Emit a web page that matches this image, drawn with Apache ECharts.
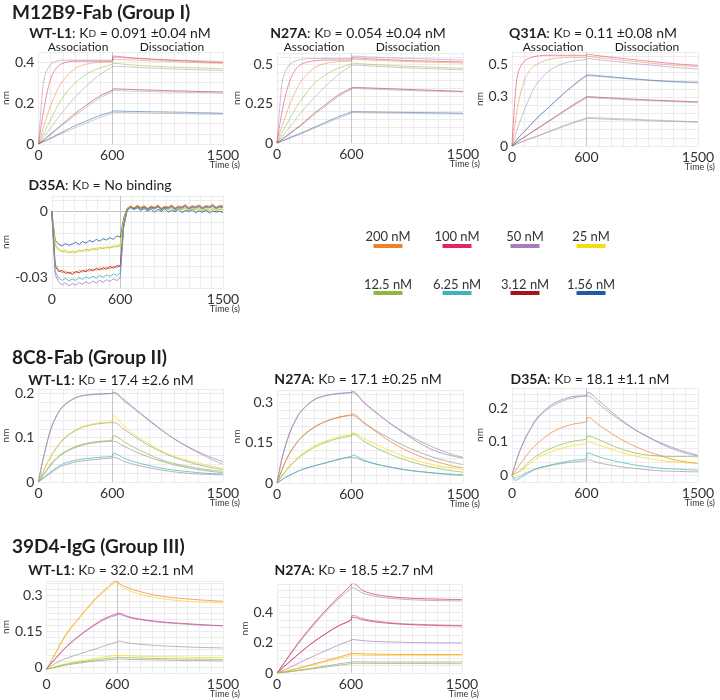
<!DOCTYPE html>
<html>
<head>
<meta charset="utf-8">
<title>BLI kinetics</title>
<script src="https://cdn.jsdelivr.net/npm/echarts@6.0.0/dist/echarts.min.js"></script>
<style>
  html, body { margin: 0; padding: 0; background: #fff; }
  #chart { width: 720px; height: 700px; }
</style>
</head>
<body>
<div id="chart"></div>
<script>
// concentrations (legend)
const concLabels = ['200 nM', '100 nM', '50 nM', '25 nM', '12.5 nM', '6.25 nM', '3.12 nM', '1.56 nM'];
const concColors = ['#f07f2e', '#e2245f', '#a57cc0', '#f6dc12', '#8fb83e', '#3fb2bd', '#a3161f', '#1f5aa6'];
const FIT_GRAY = '#9a9a9a';

// tick labels
const xTickLabels = [0, 600, 1500];
const yTicksA1 = [0, 0.2, 0.4];
const yTicksA2 = [0, 0.25, 0.5];
const yTicksA3 = [0, 0.3, 0.5];
const yTicksA4 = [-0.03, 0];
const yTicksB1 = [0, 0.1, 0.2];
const yTicksB2 = [0, 0.15, 0.3];
const yTicksB3 = [0, 0.1, 0.2];
const yTicksC1 = [0, 0.15, 0.3];
const yTicksC2 = [0, 0.2, 0.4];

// time points (s): association 0-600, dissociation 610-1500
const tKin = [0, 25, 50, 100, 150, 200, 300, 400, 500, 600, 610, 700, 800, 900, 1000, 1100, 1200, 1300, 1400, 1500];
const tNoise = [0, 30, 60, 90, 120, 150, 180, 210, 240, 270, 300, 330, 360, 390, 420, 450, 480, 510, 540, 570,
  600, 630, 660, 690, 720, 750, 780, 810, 840, 870, 900, 930, 960, 990, 1020, 1050, 1080, 1110, 1140, 1170,
  1200, 1230, 1260, 1290, 1320, 1350, 1380, 1410, 1440, 1470, 1500];

// M12B9-Fab, WT-L1 (nm)
const m12b9Wt = [
  [0, 0.20, 0.33, 0.39, 0.405, 0.41, 0.41, 0.41, 0.41, 0.41, 0.425, 0.422, 0.418, 0.415, 0.413, 0.411, 0.409, 0.407, 0.405, 0.404],
  [0, 0.10, 0.19, 0.32, 0.375, 0.395, 0.405, 0.405, 0.405, 0.405, 0.43, 0.425, 0.42, 0.416, 0.412, 0.409, 0.406, 0.403, 0.40, 0.398],
  [0, 0.05, 0.10, 0.19, 0.26, 0.31, 0.37, 0.392, 0.40, 0.402, 0.415, 0.412, 0.41, 0.407, 0.405, 0.403, 0.40, 0.398, 0.396, 0.395],
  [0, 0.03, 0.06, 0.12, 0.18, 0.23, 0.30, 0.345, 0.372, 0.39, 0.395, 0.39, 0.385, 0.382, 0.379, 0.376, 0.374, 0.372, 0.37, 0.368],
  [0, 0.02, 0.04, 0.08, 0.12, 0.16, 0.23, 0.29, 0.34, 0.377, 0.38, 0.378, 0.375, 0.372, 0.37, 0.367, 0.365, 0.363, 0.361, 0.36],
  [0, 0.012, 0.025, 0.05, 0.075, 0.10, 0.15, 0.195, 0.235, 0.263, 0.27, 0.268, 0.266, 0.264, 0.262, 0.26, 0.259, 0.257, 0.256, 0.255],
  [0, 0.01, 0.02, 0.045, 0.07, 0.095, 0.14, 0.185, 0.225, 0.255, 0.262, 0.26, 0.258, 0.257, 0.255, 0.254, 0.253, 0.252, 0.251, 0.25],
  [0, 0.007, 0.015, 0.03, 0.045, 0.06, 0.09, 0.115, 0.14, 0.158, 0.162, 0.16, 0.159, 0.158, 0.157, 0.156, 0.155, 0.153, 0.152, 0.15],
  [0, 0.006, 0.012, 0.025, 0.04, 0.053, 0.08, 0.105, 0.13, 0.15, 0.155, 0.153, 0.152, 0.151, 0.15, 0.149, 0.148, 0.147, 0.146, 0.145]
];
const m12b9WtCols = [2, 1, 0, 4, -1, 6, -1, 7, -1];

// M12B9-Fab, N27A
const m12b9N27a = [
  [0, 0.26, 0.42, 0.50, 0.525, 0.535, 0.54, 0.54, 0.54, 0.54, 0.555, 0.552, 0.548, 0.545, 0.542, 0.54, 0.537, 0.535, 0.532, 0.53],
  [0, 0.13, 0.24, 0.39, 0.47, 0.505, 0.525, 0.53, 0.53, 0.53, 0.545, 0.54, 0.536, 0.532, 0.529, 0.526, 0.524, 0.522, 0.52, 0.518],
  [0, 0.07, 0.13, 0.24, 0.33, 0.40, 0.48, 0.51, 0.52, 0.525, 0.535, 0.532, 0.528, 0.525, 0.522, 0.519, 0.517, 0.515, 0.513, 0.51],
  [0, 0.04, 0.08, 0.15, 0.22, 0.28, 0.38, 0.44, 0.48, 0.505, 0.51, 0.505, 0.5, 0.496, 0.492, 0.489, 0.486, 0.483, 0.48, 0.478],
  [0, 0.025, 0.05, 0.10, 0.15, 0.20, 0.29, 0.37, 0.44, 0.495, 0.498, 0.495, 0.49, 0.486, 0.482, 0.479, 0.476, 0.473, 0.47, 0.468],
  [0, 0.015, 0.03, 0.06, 0.09, 0.12, 0.19, 0.25, 0.31, 0.35, 0.355, 0.353, 0.35, 0.347, 0.344, 0.341, 0.338, 0.336, 0.333, 0.33],
  [0, 0.012, 0.025, 0.055, 0.085, 0.115, 0.18, 0.24, 0.30, 0.342, 0.348, 0.346, 0.343, 0.34, 0.337, 0.335, 0.332, 0.33, 0.328, 0.326],
  [0, 0.008, 0.016, 0.033, 0.05, 0.066, 0.10, 0.135, 0.17, 0.198, 0.2, 0.199, 0.198, 0.197, 0.196, 0.195, 0.194, 0.193, 0.192, 0.19],
  [0, 0.007, 0.014, 0.03, 0.045, 0.06, 0.095, 0.128, 0.16, 0.19, 0.194, 0.193, 0.192, 0.191, 0.19, 0.189, 0.188, 0.187, 0.186, 0.185]
];
const m12b9N27aCols = [2, 1, 0, 4, -1, 6, -1, 7, -1];

// M12B9-Fab, Q31A
const m12b9Q31a = [
  [0, 0.30, 0.45, 0.52, 0.54, 0.55, 0.555, 0.555, 0.555, 0.555, 0.56, 0.552, 0.543, 0.535, 0.527, 0.519, 0.511, 0.504, 0.498, 0.492],
  [0, 0.14, 0.26, 0.40, 0.47, 0.50, 0.53, 0.54, 0.542, 0.542, 0.548, 0.54, 0.532, 0.524, 0.516, 0.508, 0.501, 0.495, 0.489, 0.484],
  [0, 0.06, 0.12, 0.22, 0.31, 0.38, 0.46, 0.50, 0.52, 0.53, 0.535, 0.527, 0.519, 0.511, 0.503, 0.496, 0.489, 0.482, 0.476, 0.47],
  [0, 0.025, 0.05, 0.09, 0.13, 0.17, 0.24, 0.31, 0.375, 0.433, 0.435, 0.43, 0.423, 0.416, 0.41, 0.404, 0.399, 0.395, 0.392, 0.39],
  [0, 0.024, 0.048, 0.088, 0.128, 0.168, 0.238, 0.308, 0.372, 0.428, 0.43, 0.425, 0.419, 0.413, 0.407, 0.401, 0.396, 0.392, 0.389, 0.386],
  [0, 0.015, 0.03, 0.055, 0.08, 0.105, 0.155, 0.205, 0.255, 0.30, 0.302, 0.298, 0.294, 0.29, 0.286, 0.282, 0.279, 0.276, 0.273, 0.27],
  [0, 0.014, 0.028, 0.053, 0.078, 0.102, 0.15, 0.20, 0.248, 0.293, 0.296, 0.292, 0.288, 0.284, 0.28, 0.277, 0.274, 0.271, 0.268, 0.265],
  [0, 0.009, 0.017, 0.032, 0.047, 0.061, 0.09, 0.12, 0.147, 0.172, 0.174, 0.172, 0.169, 0.166, 0.163, 0.16, 0.157, 0.154, 0.151, 0.148],
  [0, 0.008, 0.016, 0.03, 0.045, 0.058, 0.087, 0.115, 0.142, 0.166, 0.168, 0.166, 0.163, 0.16, 0.158, 0.155, 0.152, 0.15, 0.148, 0.145]
];
const m12b9Q31aCols = [1, 0, 2, 7, -1, 6, -1, -1, 2];

// M12B9-Fab, D35A (no binding, raw traces on tNoise)
const m12b9D35a = [
  [0, -0.0132, -0.0150, -0.0158, -0.0147, -0.0155, -0.0149, -0.0141, -0.0152, -0.0138,
   -0.0145, -0.0133, -0.0140, -0.0128, -0.0136, -0.0125, -0.0131, -0.0120, -0.0128, -0.0112,
   -0.0118, -0.0030, 0.0012, 0.0021, 0.0008, 0.0016, 0.0004, 0.0013, 0.0002, 0.0011,
   -0.0003, 0.0009, 0.0001, 0.0012, -0.0004, 0.0007, -0.0002, 0.0010, -0.0006, 0.0005,
   -0.0001, 0.0008, -0.0007, 0.0003, -0.0005, 0.0006, -0.0008, 0.0002, -0.0004, 0.0001, -0.0006],
  [0, -0.0155, -0.0172, -0.0185, -0.0178, -0.0190, -0.0182, -0.0188, -0.0176, -0.0184,
   -0.0172, -0.0180, -0.0169, -0.0176, -0.0165, -0.0171, -0.0162, -0.0168, -0.0158, -0.0163,
   -0.0152, -0.0040, 0.0015, 0.0025, 0.0012, 0.0020, 0.0009, 0.0018, 0.0006, 0.0016,
   0.0010, 0.0019, 0.0004, 0.0014, 0.0008, 0.0017, 0.0003, 0.0012, 0.0007, 0.0015,
   0.0002, 0.0011, 0.0006, 0.0013, 0.0001, 0.0010, 0.0005, 0.0012, 0.0003, 0.0009, 0.0006],
  [0, -0.0160, -0.0180, -0.0176, -0.0188, -0.0181, -0.0193, -0.0180, -0.0187, -0.0175,
   -0.0183, -0.0171, -0.0178, -0.0167, -0.0174, -0.0163, -0.0170, -0.0160, -0.0166, -0.0155,
   -0.0160, -0.0045, 0.0010, 0.0022, 0.0014, 0.0024, 0.0011, 0.0021, 0.0013, 0.0023,
   0.0009, 0.0020, 0.0012, 0.0022, 0.0008, 0.0018, 0.0011, 0.0020, 0.0007, 0.0017,
   0.0010, 0.0019, 0.0006, 0.0016, 0.0009, 0.0018, 0.0005, 0.0015, 0.0008, 0.0016, 0.0010],
  [0, -0.0240, -0.0268, -0.0280, -0.0272, -0.0285, -0.0276, -0.0282, -0.0270, -0.0278,
   -0.0266, -0.0274, -0.0262, -0.0270, -0.0258, -0.0266, -0.0255, -0.0262, -0.0250, -0.0258,
   -0.0245, -0.0060, 0.0008, 0.0024, 0.0016, 0.0028, 0.0018, 0.0026, 0.0014, 0.0025,
   0.0019, 0.0029, 0.0015, 0.0024, 0.0020, 0.0030, 0.0016, 0.0025, 0.0021, 0.0031,
   0.0017, 0.0026, 0.0022, 0.0030, 0.0018, 0.0027, 0.0023, 0.0032, 0.0019, 0.0028, 0.0024],
  [0, -0.0250, -0.0275, -0.0270, -0.0283, -0.0278, -0.0288, -0.0274, -0.0281, -0.0269,
   -0.0276, -0.0264, -0.0272, -0.0260, -0.0268, -0.0257, -0.0264, -0.0252, -0.0259, -0.0248,
   -0.0252, -0.0065, 0.0005, 0.0019, 0.0012, 0.0023, 0.0014, 0.0021, 0.0010, 0.0020,
   0.0015, 0.0024, 0.0011, 0.0019, 0.0016, 0.0025, 0.0012, 0.0020, 0.0017, 0.0026,
   0.0013, 0.0021, 0.0018, 0.0025, 0.0014, 0.0022, 0.0019, 0.0027, 0.0015, 0.0023, 0.0020],
  [0, -0.0290, -0.0322, -0.0335, -0.0326, -0.0340, -0.0330, -0.0337, -0.0325, -0.0333,
   -0.0321, -0.0330, -0.0318, -0.0327, -0.0315, -0.0324, -0.0312, -0.0320, -0.0308, -0.0316,
   -0.0302, -0.0075, 0.0002, 0.0016, 0.0008, 0.0019, 0.0010, 0.0017, 0.0006, 0.0015,
   0.0011, 0.0020, 0.0007, 0.0014, 0.0012, 0.0021, 0.0008, 0.0016, 0.0013, 0.0022,
   0.0009, 0.0017, 0.0014, 0.0021, 0.0010, 0.0018, 0.0015, 0.0022, 0.0011, 0.0019, 0.0016],
  [0, -0.0275, -0.0305, -0.0315, -0.0306, -0.0318, -0.0309, -0.0315, -0.0303, -0.0311,
   -0.0299, -0.0307, -0.0296, -0.0304, -0.0293, -0.0301, -0.0290, -0.0297, -0.0286, -0.0293,
   -0.0282, -0.0070, 0.0004, 0.0018, 0.0010, 0.0021, 0.0012, 0.0019, 0.0008, 0.0017,
   0.0013, 0.0022, 0.0009, 0.0016, 0.0014, 0.0023, 0.0010, 0.0018, 0.0015, 0.0024,
   0.0011, 0.0019, 0.0016, 0.0023, 0.0012, 0.0020, 0.0017, 0.0024, 0.0013, 0.0021, 0.0018]
];
const m12b9D35aCols = [7, 4, 3, 0, 6, 2, 5];

// 8C8-Fab, WT-L1
const c8Wt = [
  [0, 0.035, 0.065, 0.12, 0.152, 0.172, 0.19, 0.196, 0.198, 0.2, 0.203, 0.185, 0.162, 0.14, 0.118, 0.098, 0.082, 0.068, 0.056, 0.046],
  [0, 0.015, 0.03, 0.058, 0.08, 0.097, 0.118, 0.128, 0.134, 0.137, 0.15, 0.125, 0.103, 0.086, 0.07, 0.058, 0.05, 0.043, 0.036, 0.031],
  [0, 0.01, 0.02, 0.04, 0.055, 0.066, 0.08, 0.088, 0.092, 0.095, 0.105, 0.09, 0.075, 0.062, 0.05, 0.042, 0.036, 0.031, 0.027, 0.024],
  [0, 0.006, 0.012, 0.023, 0.033, 0.041, 0.049, 0.053, 0.056, 0.058, 0.065, 0.053, 0.044, 0.037, 0.031, 0.027, 0.024, 0.021, 0.019, 0.018],
  [0, 0.005, 0.01, 0.02, 0.03, 0.037, 0.045, 0.049, 0.052, 0.054, 0.056, 0.046, 0.038, 0.032, 0.027, 0.023, 0.02, 0.018, 0.017, 0.016],
  [0, 0.036, 0.067, 0.118, 0.15, 0.17, 0.19, 0.197, 0.199, 0.2, 0.2, 0.182, 0.16, 0.138, 0.117, 0.098, 0.081, 0.066, 0.052, 0.04],
  [0, 0.016, 0.031, 0.057, 0.078, 0.095, 0.116, 0.127, 0.132, 0.134, 0.134, 0.118, 0.099, 0.082, 0.068, 0.056, 0.047, 0.039, 0.033, 0.028],
  [0, 0.01, 0.02, 0.038, 0.053, 0.064, 0.078, 0.086, 0.09, 0.092, 0.092, 0.08, 0.067, 0.056, 0.047, 0.039, 0.033, 0.028, 0.024, 0.021]
];
const c8WtCols = [2, 3, 4, 5, -1, -1, -1, -1];

// 8C8-Fab, N27A
const c8N27a = [
  [0, 0.06, 0.11, 0.185, 0.235, 0.27, 0.31, 0.325, 0.332, 0.336, 0.34, 0.30, 0.262, 0.225, 0.192, 0.162, 0.135, 0.115, 0.102, 0.093],
  [0, 0.032, 0.062, 0.11, 0.145, 0.172, 0.208, 0.23, 0.245, 0.253, 0.256, 0.225, 0.19, 0.158, 0.131, 0.109, 0.091, 0.077, 0.065, 0.056],
  [0, 0.017, 0.034, 0.063, 0.087, 0.107, 0.137, 0.157, 0.171, 0.18, 0.186, 0.165, 0.143, 0.122, 0.103, 0.087, 0.074, 0.064, 0.056, 0.05],
  [0, 0.016, 0.032, 0.06, 0.083, 0.103, 0.132, 0.152, 0.166, 0.175, 0.182, 0.155, 0.13, 0.109, 0.091, 0.076, 0.064, 0.054, 0.046, 0.04],
  [0, 0.008, 0.016, 0.029, 0.04, 0.05, 0.064, 0.076, 0.089, 0.099, 0.104, 0.085, 0.07, 0.06, 0.051, 0.045, 0.04, 0.036, 0.033, 0.031],
  [0, 0.058, 0.108, 0.182, 0.232, 0.268, 0.308, 0.325, 0.332, 0.335, 0.335, 0.298, 0.26, 0.226, 0.195, 0.168, 0.145, 0.125, 0.108, 0.095],
  [0, 0.03, 0.06, 0.108, 0.143, 0.17, 0.206, 0.229, 0.243, 0.25, 0.25, 0.222, 0.194, 0.168, 0.144, 0.123, 0.105, 0.09, 0.078, 0.068],
  [0, 0.007, 0.015, 0.028, 0.039, 0.049, 0.063, 0.075, 0.087, 0.095, 0.095, 0.082, 0.07, 0.06, 0.052, 0.045, 0.04, 0.035, 0.031, 0.028]
];
const c8N27aCols = [2, 0, 3, 4, 5, -1, -1, -1];

// 8C8-Fab, D35A
const c8D35a = [
  [0, 0.03, 0.06, 0.105, 0.14, 0.17, 0.205, 0.225, 0.235, 0.238, 0.247, 0.222, 0.19, 0.16, 0.134, 0.113, 0.094, 0.078, 0.066, 0.057],
  [0, 0.012, 0.025, 0.05, 0.075, 0.093, 0.123, 0.142, 0.153, 0.16, 0.173, 0.15, 0.125, 0.103, 0.085, 0.07, 0.058, 0.047, 0.04, 0.035],
  [0, 0.005, 0.01, 0.025, 0.044, 0.058, 0.078, 0.092, 0.102, 0.108, 0.117, 0.106, 0.09, 0.076, 0.066, 0.06, 0.057, 0.056, 0.056, 0.055],
  [0, 0.004, 0.008, 0.02, 0.036, 0.05, 0.068, 0.08, 0.089, 0.095, 0.1, 0.09, 0.078, 0.066, 0.057, 0.05, 0.044, 0.04, 0.037, 0.035],
  [0, -0.015, -0.012, 0.0, 0.01, 0.02, 0.03, 0.038, 0.045, 0.05, 0.067, 0.055, 0.045, 0.037, 0.03, 0.025, 0.021, 0.019, 0.017, 0.015],
  [0, -0.008, -0.005, 0.005, 0.013, 0.02, 0.028, 0.035, 0.04, 0.043, 0.046, 0.037, 0.03, 0.024, 0.02, 0.016, 0.013, 0.012, 0.011, 0.01],
  [0, 0.032, 0.06, 0.104, 0.138, 0.167, 0.2, 0.22, 0.231, 0.236, 0.236, 0.212, 0.183, 0.157, 0.134, 0.114, 0.097, 0.082, 0.07, 0.06]
];
const c8D35aCols = [2, 0, 4, 3, 5, -1, -1];

// 39D4-IgG, WT-L1
const d4Wt = [
  [-0.01, 0.012, 0.035, 0.08, 0.125, 0.16, 0.22, 0.278, 0.325, 0.36, 0.352, 0.33, 0.315, 0.303, 0.295, 0.289, 0.285, 0.281, 0.278, 0.275],
  [-0.01, 0.01, 0.032, 0.077, 0.12, 0.156, 0.216, 0.273, 0.32, 0.352, 0.345, 0.32, 0.304, 0.293, 0.285, 0.279, 0.275, 0.272, 0.27, 0.268],
  [-0.008, 0.008, 0.022, 0.05, 0.077, 0.1, 0.14, 0.175, 0.205, 0.223, 0.225, 0.21, 0.2, 0.193, 0.188, 0.184, 0.181, 0.178, 0.175, 0.173],
  [-0.008, 0.006, 0.02, 0.047, 0.074, 0.097, 0.137, 0.172, 0.2, 0.218, 0.22, 0.207, 0.198, 0.191, 0.186, 0.182, 0.179, 0.176, 0.174, 0.172],
  [-0.005, 0.002, 0.008, 0.022, 0.033, 0.042, 0.058, 0.073, 0.09, 0.105, 0.108, 0.1, 0.095, 0.091, 0.088, 0.086, 0.084, 0.082, 0.081, 0.08],
  [-0.01, -0.006, -0.002, 0.006, 0.012, 0.018, 0.027, 0.035, 0.043, 0.049, 0.05, 0.047, 0.045, 0.044, 0.043, 0.042, 0.041, 0.04, 0.04, 0.039],
  [-0.01, -0.007, -0.004, 0.003, 0.009, 0.014, 0.022, 0.029, 0.035, 0.04, 0.041, 0.039, 0.037, 0.036, 0.035, 0.034, 0.033, 0.033, 0.032, 0.032],
  [-0.008, -0.006, -0.003, 0.002, 0.007, 0.011, 0.018, 0.024, 0.029, 0.033, 0.034, 0.032, 0.031, 0.03, 0.029, 0.028, 0.027, 0.027, 0.026, 0.026]
];
const d4WtCols = [0, 3, 1, 2, -1, 3, 4, -1];

// 39D4-IgG, N27A
const d4N27a = [
  [0, 0.028, 0.058, 0.118, 0.175, 0.23, 0.33, 0.42, 0.505, 0.582, 0.597, 0.545, 0.52, 0.508, 0.5, 0.495, 0.492, 0.49, 0.488, 0.487],
  [0, 0.027, 0.055, 0.112, 0.168, 0.222, 0.32, 0.41, 0.492, 0.56, 0.565, 0.528, 0.508, 0.497, 0.49, 0.485, 0.482, 0.48, 0.479, 0.478],
  [0, 0.018, 0.038, 0.075, 0.11, 0.145, 0.21, 0.265, 0.315, 0.354, 0.383, 0.36, 0.345, 0.335, 0.328, 0.324, 0.321, 0.319, 0.317, 0.316],
  [0, 0.017, 0.036, 0.072, 0.107, 0.142, 0.207, 0.262, 0.312, 0.35, 0.37, 0.352, 0.338, 0.33, 0.324, 0.32, 0.317, 0.315, 0.313, 0.312],
  [0, 0.008, 0.017, 0.035, 0.055, 0.075, 0.113, 0.15, 0.185, 0.217, 0.222, 0.214, 0.209, 0.206, 0.204, 0.202, 0.201, 0.2, 0.2, 0.199],
  [0, 0.004, 0.008, 0.018, 0.028, 0.038, 0.06, 0.082, 0.105, 0.128, 0.13, 0.127, 0.125, 0.124, 0.123, 0.123, 0.122, 0.122, 0.122, 0.122],
  [0, 0.003, 0.007, 0.016, 0.025, 0.034, 0.054, 0.074, 0.095, 0.117, 0.119, 0.117, 0.116, 0.116, 0.115, 0.115, 0.115, 0.115, 0.115, 0.115],
  [0, 0.002, 0.004, 0.01, 0.016, 0.022, 0.034, 0.047, 0.06, 0.073, 0.074, 0.074, 0.073, 0.073, 0.073, 0.073, 0.073, 0.073, 0.073, 0.073],
  [0, 0.002, 0.004, 0.008, 0.013, 0.018, 0.029, 0.04, 0.051, 0.062, 0.064, 0.064, 0.063, 0.063, 0.063, 0.063, 0.063, 0.062, 0.062, 0.062]
];
const d4N27aCols = [1, -1, 2, 1, 2, 0, 3, -1, 4];

// ---- layout ----
const FONT = "Lato, 'Open Sans', sans-serif";
const TXT = '#1e1e1e';

const panels = [
  { grid: { left: 37, top: 52, width: 186, height: 92 }, y: [0, 0.45, 0.05], yTicks: yTicksA1, fade: 0.5,
    curves: m12b9Wt, cols: m12b9WtCols, times: tKin, head: { x: 120, y: 33, m: 'WT-L1', v: '0.091 ±0.04 nM' } },
  { grid: { left: 277, top: 53, width: 186, height: 90 }, y: [0, 0.575, 0.05], yTicks: yTicksA2, fade: 0.5,
    curves: m12b9N27a, cols: m12b9N27aCols, times: tKin, head: { x: 358, y: 33, m: 'N27A', v: '0.054 ±0.04 nM' } },
  { grid: { left: 512, top: 52, width: 186, height: 94 }, y: [0, 0.575, 0.05], yTicks: yTicksA3, fade: 0.5,
    curves: m12b9Q31a, cols: m12b9Q31aCols, times: tKin, head: { x: 593, y: 33, m: 'Q31A', v: '0.11 ±0.08 nM' } },
  { grid: { left: 37, top: 196, width: 186, height: 92 }, y: [-0.035, 0.007, 0.005], yTicks: yTicksA4, zeroLine: true, fade: 0.8,
    curves: m12b9D35a, cols: m12b9D35aCols, times: tNoise, noisy: true, head: { x: 100, y: 185, m: 'D35A', v: 'No binding' } },
  { grid: { left: 37, top: 389, width: 186, height: 93 }, y: [0, 0.21, 0.02], yTicks: yTicksB1, fade: 0.7,
    curves: c8Wt, cols: c8WtCols, times: tKin, head: { x: 111, y: 380, m: 'WT-L1', v: '17.4 ±2.6 nM' } },
  { grid: { left: 277, top: 390, width: 186, height: 93 }, y: [0, 0.345, 0.03], yTicks: yTicksB2, fade: 0.7,
    curves: c8N27a, cols: c8N27aCols, times: tKin, head: { x: 358, y: 379, m: 'N27A', v: '17.1 ±0.25 nM' } },
  { grid: { left: 512, top: 388, width: 186, height: 94 }, y: [-0.02, 0.26, 0.02], yTicks: yTicksB3, fade: 0.7,
    curves: c8D35a, cols: c8D35aCols, times: tKin, head: { x: 590, y: 379, m: 'D35A', v: '18.1 ±1.1 nM' } },
  { grid: { left: 35, top: 581, width: 188, height: 92 }, y: [-0.025, 0.36, 0.025], yTicks: yTicksC1, fade: 0.7,
    curves: d4Wt, cols: d4WtCols, times: tKin, head: { x: 111, y: 570, m: 'WT-L1', v: '32.0 ±2.1 nM' } },
  { grid: { left: 277, top: 584, width: 185, height: 89 }, y: [0, 0.59, 0.05], yTicks: yTicksC2, fade: 0.7,
    curves: d4N27a, cols: d4N27aCols, times: tKin, head: { x: 354, y: 570, m: 'N27A', v: '18.5 ±2.7 nM' } }
];

const groupTitles = [
  { x: 12, y: 13, text: 'M12B9-Fab (Group I)' },
  { x: 12, y: 358, text: '8C8-Fab (Group II)' },
  { x: 12, y: 547, text: '39D4-IgG (Group III)' }
];
const phaseLabels = [78, 172, 314, 408, 553, 647];

const LIGHT = '#ececec';
const DARK = '#c4c4c4';

function fmtTick(ticks) {
  return function (v) {
    for (const t of ticks) {
      if (Math.abs(v - t) < 1e-9) return String(t);
    }
    return '';
  };
}

function splitColors(min, max, step, darkAt) {
  const cols = [];
  const n = Math.floor((max - min) / step + 1e-6);
  for (let k = 0; k <= n + 1; k++) {
    const v = min + k * step;
    cols.push(darkAt !== null && Math.abs(v - darkAt) < 1e-9 ? DARK : LIGHT);
  }
  return cols;
}

const grids = [], xAxes = [], yAxes = [], series = [], graphic = [];

panels.forEach((p, i) => {
  grids.push(Object.assign({ containLabel: false }, p.grid));
  xAxes.push({
    gridIndex: i, type: 'value', min: 0, max: 1500, interval: 100,
    axisLine: { show: false }, axisTick: { show: false },
    axisLabel: { formatter: fmtTick(xTickLabels), fontSize: 14, color: '#333', fontFamily: FONT, margin: 4 },
    splitLine: { show: true, lineStyle: { width: 1, color: splitColors(0, 1500, 100, 600) } }
  });
  yAxes.push({
    gridIndex: i, type: 'value', min: p.y[0], max: p.y[1], interval: p.y[2],
    axisLine: { show: false }, axisTick: { show: false },
    axisLabel: { formatter: fmtTick(p.yTicks), fontSize: 14, color: '#333', fontFamily: FONT, margin: 4 },
    splitLine: { show: true, lineStyle: { width: 1, color: splitColors(p.y[0], p.y[1], p.y[2], p.zeroLine ? 0 : null) } },
    name: 'nm', nameLocation: 'middle', nameGap: 24,
    nameTextStyle: { fontSize: 10, color: '#333', fontFamily: FONT }
  });
  p.curves.forEach((c, k) => {
    const ci = p.cols[k];
    series.push({
      type: 'line', xAxisIndex: i, yAxisIndex: i,
      data: p.times.map((t, j) => [t, c[j]]),
      showSymbol: false, silent: true,
      smooth: p.noisy ? false : 0.35,
      lineStyle: { width: 1, color: ci < 0 ? FIT_GRAY : concColors[ci], opacity: p.fade },
      z: ci < 0 ? 1 : 2
    });
  });

  // panel heading: mutant bold, K_D value regular
  graphic.push({
    type: 'text', x: p.head.x, y: p.head.y, silent: true,
    style: {
      text: '{b|' + p.head.m + '}: K{s|D} = ' + p.head.v,
      fontSize: 14, fontFamily: FONT, fill: TXT, align: 'center', verticalAlign: 'middle',
      rich: {
        b: { fontSize: 14, fontWeight: 'bold', fontFamily: FONT, fill: TXT },
        s: { fontSize: 10, fontFamily: FONT, fill: TXT, verticalAlign: 'bottom', padding: [0, 0, 1, 0] }
      }
    }
  });
  graphic.push({
    type: 'text', x: p.grid.left + p.grid.width + 17, y: p.grid.top + p.grid.height + 21, silent: true,
    style: { text: 'Time (s)', fontSize: 9, fontFamily: FONT, fill: '#333', align: 'right', verticalAlign: 'middle' }
  });
});

groupTitles.forEach(g => {
  graphic.push({
    type: 'text', x: g.x, y: g.y, silent: true,
    style: { text: g.text, fontSize: 19, fontWeight: 'bold', fontFamily: FONT, fill: TXT, verticalAlign: 'middle' }
  });
});

phaseLabels.forEach((x, k) => {
  graphic.push({
    type: 'text', x: x, y: 47, silent: true,
    style: { text: k % 2 === 0 ? 'Association' : 'Dissociation', fontSize: 12, fontFamily: FONT, fill: TXT, align: 'center', verticalAlign: 'middle' }
  });
});

// concentration key, 4 columns x 2 rows
const keyX = [388, 457, 525, 591];
const keyTextY = [237, 285];
const keyBarY = [246, 293];
concLabels.forEach((lab, i) => {
  const cx = keyX[i % 4];
  const r = Math.floor(i / 4);
  graphic.push({
    type: 'text', x: cx, y: keyTextY[r], silent: true,
    style: { text: lab, fontSize: 13, fontFamily: FONT, fill: '#333', align: 'center', verticalAlign: 'middle' }
  });
  graphic.push({
    type: 'rect', silent: true,
    shape: { x: cx - 14.5, y: keyBarY[r] - 2, width: 29, height: 4 },
    style: { fill: concColors[i] }
  });
});

const chart = echarts.init(document.getElementById('chart'), null, { renderer: 'canvas' });
chart.setOption({
  backgroundColor: '#ffffff',
  animation: false,
  grid: grids,
  xAxis: xAxes,
  yAxis: yAxes,
  series: series,
  graphic: graphic
});
</script>
</body>
</html>
